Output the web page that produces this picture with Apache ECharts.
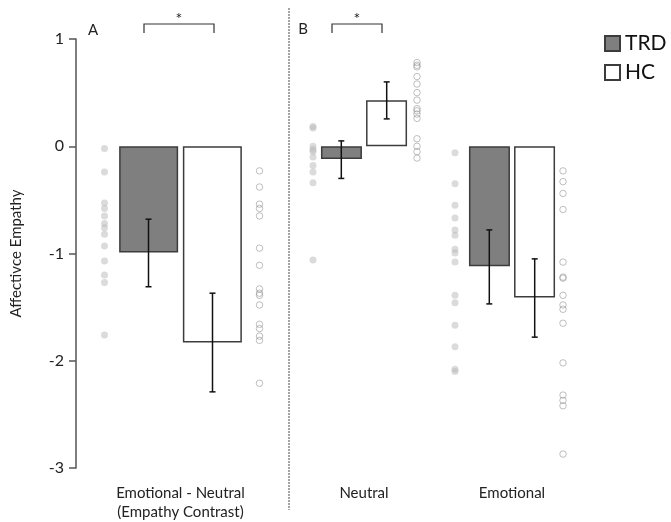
<!DOCTYPE html>
<html>
<head>
<meta charset="utf-8">
<script src="https://cdn.jsdelivr.net/npm/echarts@6/dist/echarts.min.js"></script>
<style>
  html, body { margin: 0; padding: 0; background: #fff; }
  #charts { width: 671px; height: 522px; }
</style>
</head>
<body>
<div id="charts"></div>
<script>
// categories
const categoriesA = ['Emotional - Neutral\n(Empathy Contrast)'];
const categoriesB = ['Neutral', 'Emotional'];

// group means
const trdMeanA = [-0.99];
const hcMeanA = [-1.83];
const trdMeanB = [-0.12, -1.12];
const hcMeanB = [0.43, -1.41];

// error bars [low, high]
const trdErrA = [[-1.31, -0.68]];
const hcErrA = [[-2.29, -1.37]];
const trdErrB = [[-0.30, 0.05], [-1.47, -0.78]];
const hcErrB = [[0.255, 0.60], [-1.78, -1.05]];

// individual subjects
const trdDotsA = [-0.02, -0.24, -0.53, -0.58, -0.65, -0.72, -0.76, -0.82, -0.93, -1.07, -1.20, -1.27, -1.76];
const hcDotsA = [-0.23, -0.38, -0.54, -0.58, -0.65, -0.95, -1.11, -1.33, -1.37, -1.39, -1.48, -1.66, -1.70, -1.77, -1.81, -2.21];
const trdDotsNeutral = [0.185, 0.17, 0.0, -0.03, -0.05, -0.10, -0.18, -0.24, -0.34, -1.06];
const hcDotsNeutral = [0.78, 0.755, 0.74, 0.65, 0.58, 0.50, 0.43, 0.35, 0.33, 0.30, 0.26, 0.07, 0.0, -0.05, -0.11];
const trdDotsEmotional = [-0.06, -0.35, -0.55, -0.67, -0.78, -0.83, -0.96, -0.995, -1.08, -1.39, -1.46, -1.67, -1.87, -2.08, -2.10];
const hcDotsEmotional = [-0.23, -0.33, -0.44, -0.59, -1.08, -1.22, -1.23, -1.39, -1.48, -1.52, -1.65, -2.02, -2.32, -2.37, -2.42, -2.87];

// y axis ticks
const yMin = -3, yMax = 1, yStep = 1;

const FONT = 'Lato';
const TRD_FILL = '#7f7f7f';
const BORDER = '#3c3c3c';

function errRender(offset) {
    return function (params, api) {
        const lo = api.coord([api.value(0), api.value(1)]);
        const hi = api.coord([api.value(0), api.value(2)]);
        const x = lo[0] + offset;
        const st = { stroke: '#111', lineWidth: 1.5 };
        return {
            type: 'group',
            children: [
                { type: 'line', shape: { x1: x, y1: lo[1], x2: x, y2: hi[1] }, style: st },
                { type: 'line', shape: { x1: x - 3, y1: lo[1], x2: x + 3, y2: lo[1] }, style: st },
                { type: 'line', shape: { x1: x - 3, y1: hi[1], x2: x + 3, y2: hi[1] }, style: st }
            ]
        };
    };
}

function errSeries(errs, idx, offset) {
    return {
        type: 'custom',
        xAxisIndex: idx, yAxisIndex: idx,
        renderItem: errRender(offset),
        data: errs.map((e, i) => [i, e[0], e[1]]),
        z: 5
    };
}

function dotSeries(vals, cat, idx, offset, filled) {
    return {
        type: 'scatter',
        xAxisIndex: idx, yAxisIndex: idx,
        data: vals.map(v => [cat, v]),
        symbolSize: filled ? 7 : 6.5,
        symbolOffset: [offset, 0],
        itemStyle: filled
            ? { color: 'rgba(180,180,180,0.6)' }
            : { color: 'rgba(0,0,0,0)', borderColor: 'rgba(140,140,140,0.7)', borderWidth: 1 },
        z: 3
    };
}

function barSeries(name, vals, idx, width, gap, fill) {
    return {
        name: name,
        type: 'bar',
        xAxisIndex: idx, yAxisIndex: idx,
        data: vals,
        barWidth: width,
        barGap: gap,
        itemStyle: { color: fill, borderColor: BORDER, borderWidth: 1.5 },
        z: 2
    };
}

const xAxisBase = {
    type: 'category',
    axisLine: { show: false, onZero: false },
    axisTick: { show: false },
    axisLabel: { color: '#222', fontSize: 15, fontFamily: FONT, margin: 16, lineHeight: 19, interval: 0 }
};

const option = {
    animation: false,
    textStyle: { fontFamily: FONT },
    grid: [
        { left: 76, width: 209, top: 39, bottom: 54 },
        { left: 290, width: 296, top: 39, bottom: 54 }
    ],
    xAxis: [
        Object.assign({}, xAxisBase, { gridIndex: 0, data: categoriesA }),
        Object.assign({}, xAxisBase, { gridIndex: 1, data: categoriesB })
    ],
    yAxis: [
        {
            gridIndex: 0, type: 'value', min: yMin, max: yMax, interval: yStep,
            name: 'Affectivce Empathy', nameLocation: 'middle', nameGap: 52,
            nameTextStyle: { color: '#222', fontSize: 15, fontFamily: FONT },
            axisLine: { show: true, lineStyle: { color: '#555', width: 1.5 } },
            axisTick: { show: true, length: 7, lineStyle: { color: '#555', width: 1.5 } },
            axisLabel: { color: '#222', fontSize: 16, fontFamily: FONT, margin: 12 },
            splitLine: { show: false }
        },
        {
            gridIndex: 1, type: 'value', min: yMin, max: yMax, interval: yStep,
            show: false, splitLine: { show: false }
        }
    ],
    legend: {
        data: ['TRD', 'HC'],
        orient: 'vertical',
        left: 599, top: 28,
        itemWidth: 15, itemHeight: 15, itemGap: 8,
        icon: 'rect',
        textStyle: { color: '#111', fontSize: 21, fontFamily: FONT }
    },
    graphic: [
        { type: 'line', shape: { x1: 289, y1: 8, x2: 289, y2: 510 }, style: { stroke: '#888', lineWidth: 1.5, lineDash: [2, 1] } },
        { type: 'polyline', shape: { points: [[144, 33], [144, 24], [214, 24], [214, 33]] }, style: { stroke: '#333', lineWidth: 1.2, fill: null } },
        { type: 'polyline', shape: { points: [[332, 33], [332, 24], [382, 24], [382, 33]] }, style: { stroke: '#333', lineWidth: 1.2, fill: null } },
        { type: 'text', x: 179, y: 19, style: { text: '*', fontSize: 16, fill: '#222', align: 'center', verticalAlign: 'middle', fontFamily: FONT } },
        { type: 'text', x: 357, y: 19, style: { text: '*', fontSize: 16, fill: '#222', align: 'center', verticalAlign: 'middle', fontFamily: FONT } },
        { type: 'text', x: 93, y: 30, style: { text: 'A', fontSize: 15, fill: '#222', align: 'center', verticalAlign: 'middle', fontFamily: FONT } },
        { type: 'text', x: 303, y: 29, style: { text: 'B', fontSize: 15, fill: '#222', align: 'center', verticalAlign: 'middle', fontFamily: FONT } }
    ],
    series: [
        barSeries('TRD', trdMeanA, 0, 59, '8%', TRD_FILL),
        barSeries('HC', hcMeanA, 0, 59, '8%', '#fff'),
        barSeries('TRD', trdMeanB, 1, 41, '10%', TRD_FILL),
        barSeries('HC', hcMeanB, 1, 41, '10%', '#fff'),
        errSeries(trdErrA, 0, -32),
        errSeries(hcErrA, 0, 32),
        errSeries(trdErrB, 1, -22.7),
        errSeries(hcErrB, 1, 22.7),
        dotSeries(trdDotsA, 0, 0, -76, true),
        dotSeries(hcDotsA, 0, 0, 79, false),
        dotSeries(trdDotsNeutral, 0, 1, -51, true),
        dotSeries(hcDotsNeutral, 0, 1, 53, false),
        dotSeries(trdDotsEmotional, 1, 1, -57, true),
        dotSeries(hcDotsEmotional, 1, 1, 51, false)
    ]
};

const chart = echarts.init(document.getElementById('charts'));
chart.setOption(option);
</script>
</body>
</html>
